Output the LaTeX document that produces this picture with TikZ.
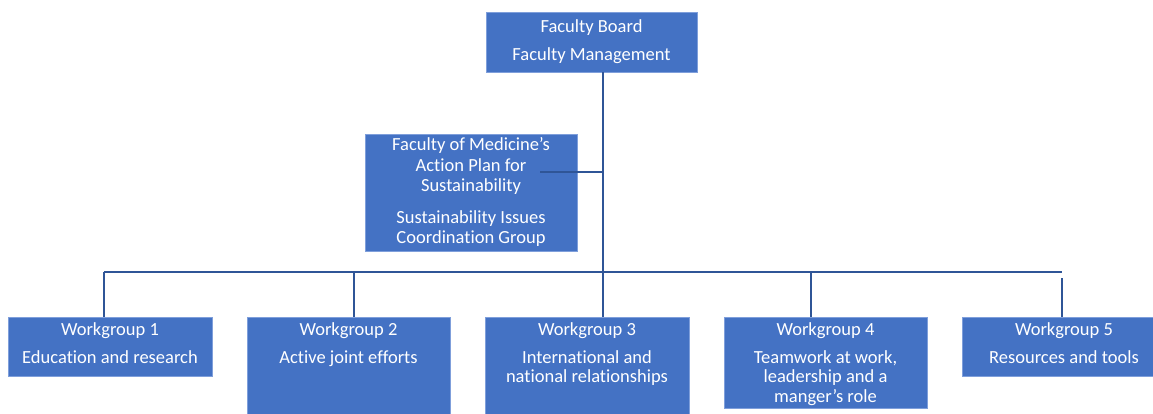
\documentclass[tikz,border=0pt]{standalone}
\usepackage{fontspec}
\setmainfont{Carlito}[Ligatures=NoCommon]
\definecolor{boxfill}{HTML}{4472C4}
\definecolor{boxedge}{HTML}{7F9FDB}
\definecolor{linkc}{HTML}{2F5597}
\newcommand\bxt[3]{\parbox[c][#2][t]{#1}{\fontsize{18.5}{19.5}\selectfont\centering #3\par}}
\tikzset{
  orgbox/.style={draw=boxedge, line width=0.8pt, fill=boxfill, text=white, inner sep=0pt, outer sep=0pt, anchor=north west},
  link/.style={draw=linkc, line width=2.2pt}
}
\begin{document}
\begin{tikzpicture}[x=1pt,y=1pt]
\useasboundingbox (0,0) rectangle (1153,-414);
\clip (0,0) rectangle (1153,-414);
% boxes
\node[orgbox] (top) at (486,-12) {\bxt{211pt}{60pt}{\rule{0pt}{21pt}Faculty Board\\[8.5pt]Faculty Management}};
\node[orgbox] (mid) at (365,-134) {\bxt{212pt}{117pt}{\rule{0pt}{17pt}Faculty of Medicine’s\\[0.8pt]Action Plan for\\[0.8pt]Sustainability\\[12pt]Sustainability Issues\\[1pt]Coordination Group}};
\node[orgbox] (wg1) at (8,-317) {\bxt{204pt}{59pt}{\rule{0pt}{18pt}Workgroup 1\\[8.5pt]Education and research}};
\node[orgbox] (wg2) at (247,-317) {\bxt{203pt}{102pt}{\rule{0pt}{18pt}Workgroup 2\\[8.5pt]Active joint efforts}};
\node[orgbox] (wg3) at (485,-317) {\bxt{204pt}{102pt}{\rule{0pt}{18pt}Workgroup 3\\[8.5pt]International and\\national relationships}};
\node[orgbox] (wg4) at (724,-317) {\bxt{203pt}{91pt}{\rule{0pt}{18pt}Workgroup 4\\[8.5pt]Teamwork at work,\\leadership and a\\manger’s role}};
\node[orgbox] (wg5) at (962,-317) {\bxt{204pt}{59pt}{\rule{0pt}{18pt}Workgroup 5\\[8.5pt]Resources and tools}};
% junction points
\coordinate (hub) at (603,-272);
\coordinate (midj) at (603,-172);
\coordinate (midin) at (540,-172);
\coordinate (busL) at (104,-272);
\coordinate (busR) at (1062,-272);
\coordinate (d2) at (354,-272);
\coordinate (d4) at (811,-272);
\coordinate (d5) at (1062,-278);
% connectors
\draw[link] (top.south -| hub) -- (hub) -- (hub |- wg3.north);
\draw[link] (midin) -- (midj);
\draw[link] (busL) -- (busR);
\draw[link] (busL) -- (busL |- wg1.north);
\draw[link] (d2) -- (d2 |- wg2.north);
\draw[link] (d4) -- (d4 |- wg4.north);
\draw[link] (d5) -- (d5 |- wg5.north);
\end{tikzpicture}
\end{document}
